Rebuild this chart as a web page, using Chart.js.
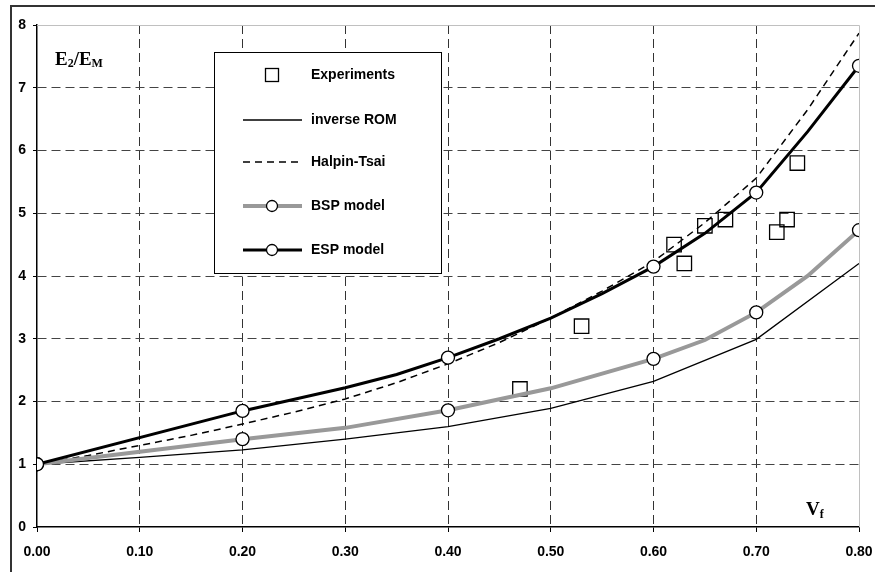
<!DOCTYPE html>
<html><head><meta charset="utf-8">
<script src="https://cdn.jsdelivr.net/npm/chart.js@4.4.1/dist/chart.umd.min.js"></script>
<style>html,body{margin:0;padding:0;background:#fff}#wrap{width:875px;height:572px;position:relative}</style>
</head><body><div id="wrap"><canvas id="c" width="875" height="572"></canvas></div>
<script>
// ---- data ----
const expX = [0.47, 0.53, 0.62, 0.63, 0.65, 0.67, 0.72, 0.73, 0.74];
const expY = [2.2, 3.2, 4.5, 4.2, 4.8, 4.9, 4.7, 4.9, 5.8];
const romX = [0, 0.1, 0.2, 0.3, 0.4, 0.5, 0.6, 0.7, 0.8];
const romY = [1, 1.11, 1.23, 1.4, 1.6, 1.89, 2.32, 2.99, 4.2];
const htX = [0, 0.05, 0.1, 0.15, 0.2, 0.25, 0.3, 0.35, 0.4, 0.45, 0.5, 0.55, 0.6, 0.65, 0.7, 0.75, 0.8];
const htY = [1, 1.14, 1.3, 1.46, 1.64, 1.83, 2.04, 2.3, 2.6, 2.94, 3.33, 3.76, 4.23, 4.85, 5.56, 6.65, 7.87];
const bspX = [0, 0.1, 0.2, 0.3, 0.4, 0.5, 0.6, 0.65, 0.7, 0.75, 0.8];
const bspY = [1, 1.2, 1.4, 1.58, 1.86, 2.21, 2.68, 2.98, 3.42, 4.0, 4.73];
const espX = [0, 0.2, 0.3, 0.35, 0.4, 0.45, 0.5, 0.55, 0.6, 0.65, 0.7, 0.75, 0.8];
const espY = [1, 1.85, 2.22, 2.43, 2.7, 3.0, 3.33, 3.72, 4.15, 4.68, 5.33, 6.3, 7.35];
const markerX = [0, 0.2, 0.4, 0.6, 0.7, 0.8];
const seriesNames = ['Experiments', 'inverse ROM', 'Halpin-Tsai', 'BSP model', 'ESP model'];
const xMin = 0, xMax = 0.8, xStep = 0.1;
const yMin = 0, yMax = 8, yStep = 1;

const pts = (xs, ys) => xs.map((x, i) => ({x, y: ys[i]}));
const mRad = ctx => (ctx.raw && markerX.some(m => Math.abs(m - ctx.raw.x) < 1e-9)) ? 6.5 : 0;

const FONT = '"Liberation Sans", Arial, sans-serif';
const SERIF = '"Liberation Serif", "Times New Roman", serif';

const decor = {
  id: 'decor',
  afterDraw(chart) {
    const {ctx, chartArea: a} = chart;
    ctx.save();
    // outer frame (left & top)
    ctx.strokeStyle = '#333'; ctx.lineWidth = 2;
    ctx.beginPath(); ctx.moveTo(11, 572); ctx.lineTo(11, 6); ctx.lineTo(875, 6); ctx.stroke();
    // plot frame top/right (light gray)
    ctx.strokeStyle = '#c0c0c0'; ctx.lineWidth = 1;
    ctx.beginPath(); ctx.moveTo(a.left, a.top + 0.5); ctx.lineTo(a.right + 0.5, a.top + 0.5); ctx.lineTo(a.right + 0.5, a.bottom); ctx.stroke();
    // axis titles
    ctx.fillStyle = '#000'; ctx.textBaseline = 'alphabetic'; ctx.textAlign = 'left';
    let x = 55, y = 65;
    const part = (t, f, dy) => { ctx.font = f; ctx.fillText(t, x, y + dy); x += ctx.measureText(t).width; };
    part('E', 'bold 19px ' + SERIF, 0);
    part('2', 'bold 12px ' + SERIF, 2);
    part('/', 'bold 19px ' + SERIF, 0);
    part('E', 'bold 19px ' + SERIF, 0);
    part('M', 'bold 12px ' + SERIF, 2);
    x = 806; y = 515;
    part('V', 'bold 19px ' + SERIF, 0);
    part('f', 'bold 12px ' + SERIF, 3);
    // legend
    const L = 214.5, T = 52.5, W = 227, H = 221;
    ctx.fillStyle = '#fff'; ctx.fillRect(L, T, W, H);
    ctx.strokeStyle = '#000'; ctx.lineWidth = 1; ctx.strokeRect(L, T, W, H);
    const rows = [75, 120, 162, 206, 250];
    const ds = chart.data.datasets;
    const x0 = 243, x1 = 302, xc = 272;
    rows.forEach((ry, i) => {
      const d = ds[i];
      ctx.save();
      if (i > 0) {
        ctx.strokeStyle = d.borderColor; ctx.lineWidth = d.borderWidth;
        ctx.setLineDash(d.borderDash || []);
        ctx.beginPath(); ctx.moveTo(x0, ry); ctx.lineTo(x1, ry); ctx.stroke();
        ctx.setLineDash([]);
      }
      if (i === 0) {
        ctx.fillStyle = '#fff'; ctx.strokeStyle = '#000'; ctx.lineWidth = 1.3;
        ctx.fillRect(xc - 6.5, ry - 6.5, 13, 13); ctx.strokeRect(xc - 6.5, ry - 6.5, 13, 13);
      } else if (i >= 3) {
        ctx.fillStyle = '#fff'; ctx.strokeStyle = '#000'; ctx.lineWidth = 1.3;
        ctx.beginPath(); ctx.arc(xc, ry, 5.5, 0, Math.PI * 2); ctx.fill(); ctx.stroke();
      }
      ctx.restore();
      ctx.fillStyle = '#000'; ctx.font = 'bold 14px ' + FONT; ctx.textBaseline = 'middle';
      ctx.fillText(seriesNames[i], 311, ry);
    });
    ctx.restore();
  }
};

new Chart(document.getElementById('c'), {
  type: 'line',
  data: {
    datasets: [
      { label: seriesNames[0], data: pts(expX, expY), showLine: false, pointStyle: 'rect', pointRadius: 10.2,
        pointBorderColor: '#000', pointBackgroundColor: 'rgba(255,255,255,0)', pointBorderWidth: 1.3,
        borderColor: '#000', borderWidth: 1.3, order: 5 },
      { label: seriesNames[1], data: pts(romX, romY), borderColor: '#000', borderWidth: 1.3, pointRadius: 0, order: 4 },
      { label: seriesNames[2], data: pts(htX, htY), borderColor: '#000', borderWidth: 1.5, borderDash: [7, 5], pointRadius: 0, order: 3 },
      { label: seriesNames[3], data: pts(bspX, bspY), borderColor: '#999', borderWidth: 4, pointRadius: mRad,
        pointBorderColor: '#000', pointBackgroundColor: '#fff', pointBorderWidth: 1.3, order: 2 },
      { label: seriesNames[4], data: pts(espX, espY), borderColor: '#000', borderWidth: 3, pointRadius: mRad,
        pointBorderColor: '#000', pointBackgroundColor: '#fff', pointBorderWidth: 1.3, order: 1 }
    ]
  },
  options: {
    responsive: false, animation: false, devicePixelRatio: 1,
    layout: { padding: { left: 0, top: 25, right: 16, bottom: 0 } },
    plugins: { legend: { display: false }, tooltip: { enabled: false } },
    elements: { line: { tension: 0 }, point: { hoverRadius: 0 } },
    scales: {
      x: {
        type: 'linear', min: xMin, max: xMax,
        afterFit: s => { s.height = 45; s.paddingLeft = 0; s.paddingRight = 0; },
        afterBuildTicks: s => { const t = []; for (let v = xMin; v <= xMax + 1e-9; v += xStep) t.push({value: +v.toFixed(2)}); s.ticks = t; },
        ticks: { callback: v => v.toFixed(2), color: '#000', font: { family: FONT, size: 14, weight: 'bold' }, padding: 12, maxRotation: 0 },
        grid: { color: c => (c.tick && (Math.abs(c.tick.value) < 1e-9 || Math.abs(c.tick.value - xMax) < 1e-9)) ? 'rgba(0,0,0,0)' : '#333',
                lineWidth: 1, tickColor: '#000', tickLength: 5, drawTicks: true },
        border: { display: true, color: '#000', width: 1.5, dash: [9, 5] }
      },
      y: {
        type: 'linear', min: yMin, max: yMax,
        afterFit: s => { s.width = 37; s.paddingTop = 0; s.paddingBottom = 0; },
        ticks: { stepSize: yStep, color: '#000', font: { family: FONT, size: 14, weight: 'bold' }, padding: 7 },
        grid: { color: c => (c.tick && (Math.abs(c.tick.value) < 1e-9 || Math.abs(c.tick.value - yMax) < 1e-9)) ? 'rgba(0,0,0,0)' : '#444',
                lineWidth: 1, tickColor: '#000', tickLength: 4, drawTicks: true },
        border: { display: true, color: '#000', width: 1.5, dash: [9, 5] }
      }
    }
  },
  plugins: [decor]
});
</script></body></html>
